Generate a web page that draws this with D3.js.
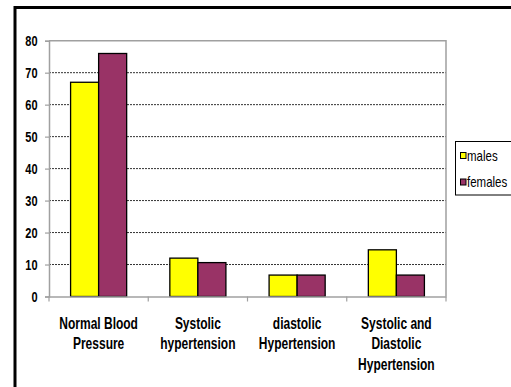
<!DOCTYPE html>
<html>
<head>
<meta charset="utf-8">
<script src="https://cdn.jsdelivr.net/npm/d3@7"></script>
<style>
  html, body { margin: 0; padding: 0; background: #fff; }
  svg { display: block; }
  text { font-family: "Liberation Sans", Arial, sans-serif; fill: #000; }
</style>
</head>
<body>
<svg id="chart" width="511" height="387"></svg>
<script>
// Blood pressure status by sex (%)
const categories = [
  ["Normal Blood", "Pressure"],
  ["Systolic", "hypertension"],
  ["diastolic", "Hypertension"],
  ["Systolic and", "Diastolic", "Hypertension"]
];
const seriesNames = ["males", "females"];
const males   = [67, 12, 6.7, 14.6];
const females = [76, 10.6, 6.7, 6.7];
const yTicks  = [0, 10, 20, 30, 40, 50, 60, 70, 80];
const colors  = ["#FFFF00", "#993366"];

const svg = d3.select("#chart");
const plot = { left: 49, right: 446, top: 40.7, bottom: 296.5 };
const stretch = 1.3; // tall, narrow lettering

// Outer frame
svg.append("rect")
  .attr("x", 15).attr("y", 7.5)
  .attr("width", 560).attr("height", 420)
  .attr("fill", "none").attr("stroke", "#000").attr("stroke-width", 3);

const catKeys = categories.map((c, i) => i);
const x0 = d3.scaleBand().domain(catKeys).range([plot.left, plot.right]).padding(0);
const x1 = d3.scaleBand().domain(seriesNames).range([0, x0.bandwidth()])
  .paddingInner(0).paddingOuter(0.77);
const y = d3.scaleLinear().domain([0, 80]).range([plot.bottom, plot.top]);

// Gridlines
svg.append("g")
  .selectAll("line")
  .data(yTicks.filter(t => t > 0 && t < 80))
  .join("line")
  .attr("x1", plot.left).attr("x2", plot.right)
  .attr("y1", d => y(d)).attr("y2", d => y(d))
  .attr("stroke", "#333").attr("stroke-width", 1)
  .attr("stroke-dasharray", "2,1");

// Plot border (top, right)
svg.append("path")
  .attr("d", `M${plot.left},${y(80)}H${plot.right}V${plot.bottom}`)
  .attr("fill", "none").attr("stroke", "#a0a0a0").attr("stroke-width", 1.5);

// Bars
const rows = catKeys.map(i => ({ i, values: [males[i], females[i]] }));
const groups = svg.append("g").selectAll("g")
  .data(rows).join("g")
  .attr("transform", d => `translate(${x0(d.i)},0)`);
groups.selectAll("rect")
  .data(d => d.values.map((v, k) => ({ key: seriesNames[k], v, k })))
  .join("rect")
  .attr("x", d => x1(d.key))
  .attr("y", d => y(d.v))
  .attr("width", x1.bandwidth())
  .attr("height", d => y(0) - y(d.v))
  .attr("fill", d => colors[d.k])
  .attr("stroke", "#000").attr("stroke-width", 1.3);

// Y axis
const yAxis = svg.append("g")
  .attr("transform", `translate(${plot.left},0)`)
  .call(d3.axisLeft(y).tickValues(yTicks).tickSize(4).tickPadding(0).tickFormat(d3.format("d")));
yAxis.select(".domain").attr("stroke", "#a0a0a0").attr("stroke-width", 1.5);
yAxis.selectAll(".tick line").attr("stroke", "#a0a0a0").attr("stroke-width", 1.2);
yAxis.selectAll(".tick text").remove();
yAxis.selectAll(".tick").append("text")
  .attr("transform", `translate(-11.5,0) scale(1,${stretch})`)
  .attr("text-anchor", "end")
  .attr("dy", "0.36em")
  .style("font-size", "11px").style("font-weight", "bold")
  .text(d => d);

// X axis
const xAxis = svg.append("g")
  .attr("transform", `translate(0,${plot.bottom})`)
  .call(d3.axisBottom(x0).tickSize(0).tickFormat(""));
xAxis.select(".domain").attr("stroke", "#a0a0a0").attr("stroke-width", 1.5);
xAxis.selectAll(".tick").remove();
const boundaries = catKeys.map(i => x0(i)).concat([plot.right]);
xAxis.selectAll("line.sep")
  .data(boundaries).join("line")
  .attr("class", "sep")
  .attr("x1", d => d).attr("x2", d => d)
  .attr("y1", 0).attr("y2", 5)
  .attr("stroke", "#a0a0a0").attr("stroke-width", 1.2);

// Category labels
const labels = svg.append("g").selectAll("g")
  .data(categories.map((lines, i) => ({ lines, i })))
  .join("g")
  .attr("transform", d => `translate(${x0(d.i) + x0.bandwidth() / 2},0)`);
labels.selectAll("text")
  .data(d => d.lines)
  .join("text")
  .attr("transform", (d, k) => `translate(0,${328.5 + k * 20.5}) scale(1,${stretch})`)
  .attr("text-anchor", "middle")
  .style("font-size", "12px").style("font-weight", "bold")
  .text(d => d);

// Legend
const legend = svg.append("g");
legend.append("rect")
  .attr("x", 455.5).attr("y", 141.5)
  .attr("width", 70).attr("height", 53.5)
  .attr("fill", "#fff").attr("stroke", "#000").attr("stroke-width", 1);
const items = legend.selectAll("g.item")
  .data(seriesNames).join("g")
  .attr("class", "item")
  .attr("transform", (d, k) => `translate(460,${152 + k * 26.5})`);
items.append("rect")
  .attr("x", 0.5).attr("y", 0.5)
  .attr("width", 5.5).attr("height", 6)
  .attr("fill", (d, k) => colors[k])
  .attr("stroke", "#000").attr("stroke-width", 1);
items.append("text")
  .attr("transform", `translate(7,8.5) scale(1,${stretch})`)
  .style("font-size", "11.5px")
  .text(d => d);
</script>
</body>
</html>
